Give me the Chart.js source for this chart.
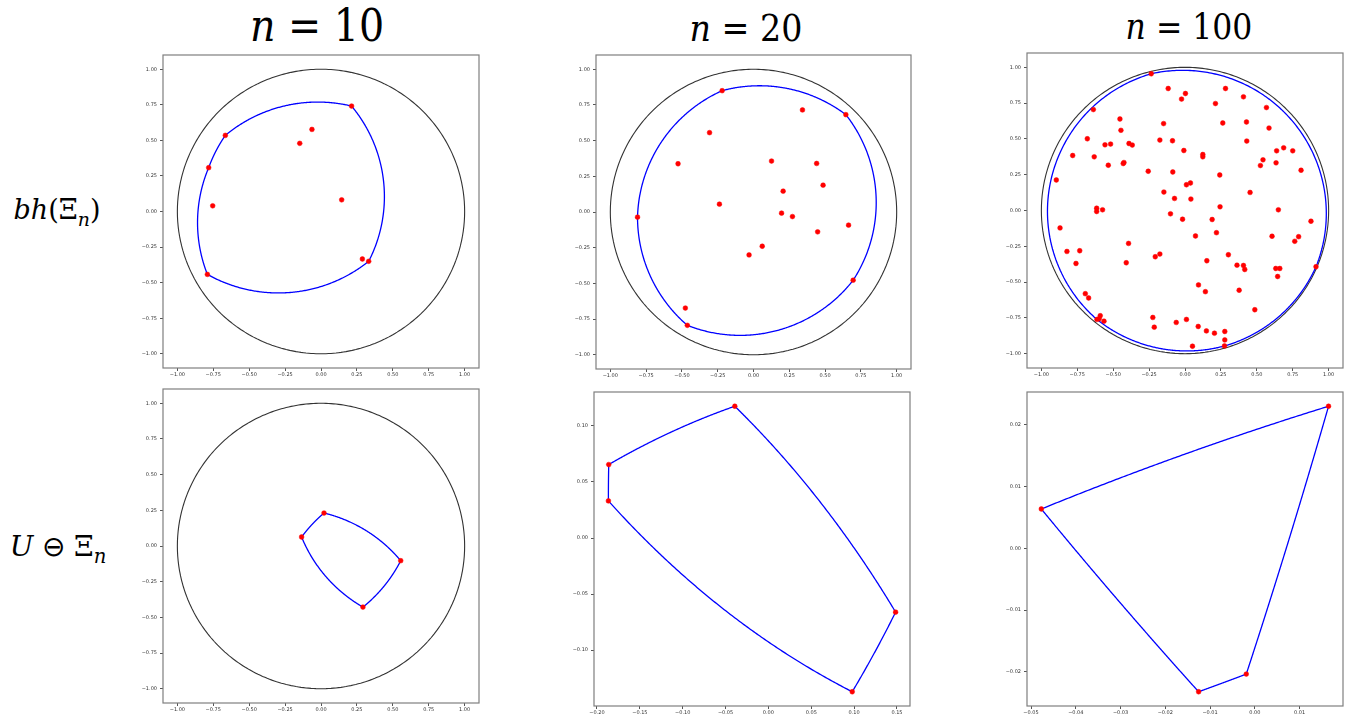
<!DOCTYPE html>
<html>
<head>
<meta charset="utf-8">
<script src="https://cdn.jsdelivr.net/npm/chart.js@4.4.1/dist/chart.umd.min.js"></script>
<style>
  body { margin: 0; background: #fff; width: 1352px; height: 720px; position: relative; overflow: hidden; }
  canvas { position: absolute; }
  .lbl { position: absolute; font-family: 'DejaVu Serif Condensed', 'DejaVu Serif', serif; font-weight: normal; color: #000; white-space: nowrap; transform: translate(-50%, -50%); }
  .row { font-family: 'DejaVu Serif', serif; }
  .lbl sub { font-size: 0.7em; }
  .lbl .op { font-family: 'DejaVu Sans', sans-serif; font-weight: 200; }
</style>
</head>
<body>
<div class="lbl" style="left:317px;top:25px;font-size:44px"><i>n</i> = 10</div>
<div class="lbl" style="left:746px;top:28px;font-size:37px"><i>n</i> = 20</div>
<div class="lbl" style="left:1189px;top:27px;font-size:35px"><i>n</i> = 100</div>
<div class="lbl row" style="left:57px;top:212px;font-size:27px"><i>bh</i>(Ξ<sub><i>n</i></sub>)</div>
<div class="lbl row" style="left:58px;top:549px;font-size:28px"><i>U</i> <span class="op">⊖</span> Ξ<sub><i>n</i></sub></div>

<canvas id="p1" width="352" height="333" style="left:133px;top:49px"></canvas>
<canvas id="p2" width="351" height="334" style="left:566px;top:49px"></canvas>
<canvas id="p3" width="352" height="335" style="left:997px;top:47px"></canvas>
<canvas id="p4" width="352" height="334" style="left:133px;top:383px"></canvas>
<canvas id="p5" width="352" height="334" style="left:564px;top:386px"></canvas>
<canvas id="p6" width="352" height="334" style="left:997px;top:386px"></canvas>

<script>
// bh(Xi_10): sample points, hull vertices in counter-clockwise order
const n10X = [0.213, -0.063, -0.148, -0.666, -0.782, -0.754, 0.144, 0.288, 0.332, -0.791];
const n10Y = [0.741, 0.577, 0.479, 0.535, 0.308, 0.040, 0.082, -0.334, -0.350, -0.442];
const n10Hull = [0, 3, 4, 9, 8];

// bh(Xi_20)
const n20X = [-0.219, 0.342, 0.645, -0.307, -0.527, 0.126, 0.441, 0.486, 0.207, -0.238,
              -0.810, 0.196, 0.272, 0.664, 0.448, 0.061, -0.031, 0.696, -0.476, -0.462];
const n20Y = [0.850, 0.715, 0.682, 0.556, 0.338, 0.357, 0.340, 0.188, 0.146, 0.055,
              -0.036, -0.008, -0.032, -0.092, -0.139, -0.240, -0.301, -0.478, -0.673, -0.794];
const n20Hull = [2, 0, 10, 19, 17];

// bh(Xi_100)
const n100X = [-0.235, -0.117, 0.003, -0.024, 0.282, 0.407, 0.212, 0.567, -0.638, -0.453,
               -0.149, 0.263, 0.428, -0.446, 0.585, -0.680, -0.175, -0.087, 0.430, -0.557,
               -0.518, -0.390, -0.367, -0.008, 0.687, 0.638, 0.750, -0.782, -0.632, 0.124,
               0.124, -0.425, -0.430, 0.543, -0.534, 0.525, 0.634, -0.896, -0.256, -0.085,
               0.242, 0.808, 0.010, 0.038, -0.147, 0.453, -0.073, 0.041, 0.244, -0.615,
               -0.615, -0.574, 0.650, -0.101, -0.017, 0.189, 0.877, -0.870, 0.219, 0.073,
               0.606, 0.791, 0.764, -0.393, -0.822, -0.733, -0.175, -0.207, 0.302, 0.152,
               -0.759, -0.409, 0.362, 0.407, 0.416, 0.632, 0.660, 0.912, 0.645, 0.094,
               0.142, 0.377, -0.694, -0.671, 0.486, -0.590, -0.597, -0.613, -0.564, -0.224,
               -0.214, -0.061, 0.010, 0.092, 0.149, 0.205, 0.277, 0.277, 0.275, 0.052];
const n100Y = [0.955, 0.852, 0.817, 0.778, 0.852, 0.794, 0.747, 0.719, 0.705, 0.639,
               0.607, 0.611, 0.618, 0.560, 0.576, 0.501, 0.492, 0.487, 0.485, 0.459,
               0.464, 0.468, 0.457, 0.419, 0.438, 0.417, 0.417, 0.384, 0.375, 0.391,
               0.375, 0.335, 0.328, 0.354, 0.316, 0.314, 0.333, 0.213, 0.274, 0.269,
               0.248, 0.281, 0.180, 0.192, 0.129, 0.126, 0.084, 0.080, 0.026, 0.016,
               -0.007, 0.005, 0.005, -0.023, -0.061, -0.063, -0.075, -0.122, -0.155, -0.178,
               -0.180, -0.183, -0.215, -0.230, -0.286, -0.281, -0.304, -0.323, -0.309, -0.351,
               -0.370, -0.365, -0.382, -0.384, -0.412, -0.405, -0.405, -0.393, -0.461, -0.520,
               -0.567, -0.557, -0.581, -0.611, -0.693, -0.735, -0.756, -0.761, -0.773, -0.747,
               -0.815, -0.782, -0.761, -0.810, -0.841, -0.857, -0.845, -0.904, -0.946, -0.948];
const n100Hull = [0, 87, 98, 77];

// U minus Xi_n: vertices in counter-clockwise order
const u10X = [0.555, 0.021, -0.135, 0.292];
const u10Y = [-0.103, 0.231, 0.063, -0.428];
const u20X = [0.1484, -0.0392, -0.1863, -0.1867, 0.0978];
const u20Y = [-0.0661, 0.1175, 0.0655, 0.0331, -0.1371];
const u100X = [0.01647, -0.0477, -0.01256, -0.00191];
const u100Y = [0.02303, 0.00638, -0.02324, -0.02038];

// tick labels
const unitTicks = [-1, -0.75, -0.5, -0.25, 0, 0.25, 0.5, 0.75, 1];
const u20XTicks = [-0.20, -0.15, -0.10, -0.05, 0, 0.05, 0.10, 0.15];
const u20YTicks = [-0.10, -0.05, 0, 0.05, 0.10];
const u100XTicks = [-0.05, -0.04, -0.03, -0.02, -0.01, 0, 0.01];
const u100YTicks = [-0.02, -0.01, 0, 0.01, 0.02];

// unit-radius arc from p to q, going counter-clockwise
function arcPoints(px, py, qx, qy) {
  const dx = qx - px, dy = qy - py;
  const d = Math.hypot(dx, dy);
  const h = Math.sqrt(Math.max(0, 1 - d * d / 4));
  const cx = (px + qx) / 2 - h * dy / d;
  const cy = (py + qy) / 2 + h * dx / d;
  const a0 = Math.atan2(py - cy, px - cx);
  let a1 = Math.atan2(qy - cy, qx - cx);
  while (a1 < a0) a1 += 2 * Math.PI;
  const pts = [];
  const steps = 80;
  for (let i = 0; i <= steps; i++) {
    const a = a0 + (a1 - a0) * i / steps;
    pts.push({ x: cx + Math.cos(a), y: cy + Math.sin(a) });
  }
  return pts;
}

function ballPolygon(xs, ys) {
  let pts = [];
  for (let i = 0; i < xs.length; i++) {
    const j = (i + 1) % xs.length;
    pts = pts.concat(arcPoints(xs[i], ys[i], xs[j], ys[j]));
  }
  return pts;
}

function unitCircle() {
  const pts = [];
  for (let i = 0; i <= 180; i++) {
    const a = i * Math.PI / 90;
    pts.push({ x: Math.cos(a), y: Math.sin(a) });
  }
  return pts;
}

const toPoints = (xs, ys) => xs.map((x, i) => ({ x: x, y: ys[i] }));
const pick = (arr, idx) => idx.map(i => arr[i]);

const fmt = v => (v < 0 ? '\u2212' : '') + Math.abs(v).toFixed(2);

const framePlugin = {
  id: 'frame',
  afterDraw(chart) {
    const { ctx, chartArea: a } = chart;
    ctx.save();
    ctx.strokeStyle = '#7f7f7f';
    ctx.lineWidth = 1.2;
    ctx.strokeRect(a.left, a.top, a.right - a.left, a.bottom - a.top);
    ctx.restore();
  }
};

function axis(range, ticks, isX) {
  return {
    type: 'linear',
    min: range[0],
    max: range[1],
    afterBuildTicks: s => { s.ticks = ticks.map(v => ({ value: v })); },
    afterFit: s => { if (isX) s.height = 14; else s.width = 30; },
    border: { display: false },
    grid: { drawOnChartArea: false, drawTicks: true, tickLength: 3, color: '#555' },
    ticks: {
      callback: fmt,
      autoSkip: false,
      maxRotation: 0,
      padding: isX ? 1 : 3,
      color: '#333',
      font: { family: 'DejaVu Sans', size: 5 }
    }
  };
}

// tiny tension keeps Chart.js off its pixel-column fast path, which breaks on closed curves
const curve = { showLine: true, pointRadius: 0, fill: false, tension: 0.0001 };

function panel(id, points, outline, withCircle, xr, yr, xt, yt) {
  const datasets = [
    { data: points, pointRadius: 2.4, pointBackgroundColor: '#ff0000', pointBorderColor: '#ff0000',
      pointBorderWidth: 0.5, showLine: false, order: 0 },
    Object.assign({ data: outline, borderColor: '#0000ff', borderWidth: 1.3, order: 1 }, curve)
  ];
  if (withCircle) {
    datasets.push(Object.assign({ data: unitCircle(), borderColor: '#333333', borderWidth: 1.1, order: 2 }, curve));
  }
  new Chart(document.getElementById(id), {
    type: 'scatter',
    data: { datasets: datasets },
    options: {
      responsive: false,
      animation: false,
      devicePixelRatio: 1,
      events: [],
      layout: { padding: { top: 6, right: 6, left: 0, bottom: 0 } },
      plugins: { legend: { display: false }, tooltip: { enabled: false } },
      scales: { x: axis(xr, xt, true), y: axis(yr, yt, false) }
    },
    plugins: [framePlugin]
  });
}

const unitRange = [-1.1, 1.1];

panel('p1', toPoints(n10X, n10Y), ballPolygon(pick(n10X, n10Hull), pick(n10Y, n10Hull)),
  true, unitRange, unitRange, unitTicks, unitTicks);
panel('p2', toPoints(n20X, n20Y), ballPolygon(pick(n20X, n20Hull), pick(n20Y, n20Hull)),
  true, unitRange, unitRange, unitTicks, unitTicks);
panel('p3', toPoints(n100X, n100Y), ballPolygon(pick(n100X, n100Hull), pick(n100Y, n100Hull)),
  true, unitRange, unitRange, unitTicks, unitTicks);
panel('p4', toPoints(u10X, u10Y), ballPolygon(u10X, u10Y),
  true, unitRange, unitRange, unitTicks, unitTicks);
panel('p5', toPoints(u20X, u20Y), ballPolygon(u20X, u20Y),
  false, [-0.2035, 0.1652], [-0.1498, 0.1302], u20XTicks, u20YTicks);
panel('p6', toPoints(u100X, u100Y), ballPolygon(u100X, u100Y),
  false, [-0.0509, 0.0197], [-0.02555, 0.02534], u100XTicks, u100YTicks);
</script>
</body>
</html>
